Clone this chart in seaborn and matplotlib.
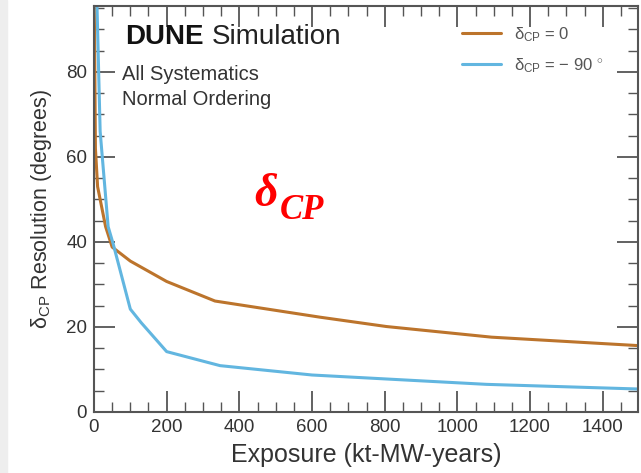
import numpy as np
import pandas as pd
import matplotlib
matplotlib.use("Agg")
import matplotlib.pyplot as plt
from matplotlib.ticker import MultipleLocator
from matplotlib.patches import Rectangle
import seaborn as sns

# Exposure (kt-MW-years) and delta_CP resolution (degrees) for each true value
exposure_cp0 = [0.5, 4, 10, 32, 50, 100, 200, 333, 622, 805, 1094, 1500]
resolution_cp0 = [100, 62, 53, 43.6, 38.8, 35.5, 30.7, 26.1, 22.3, 20.1, 17.6, 15.6]

exposure_cp90 = [7, 17, 39, 53, 100, 130, 200, 347, 600, 1080, 1500]
resolution_cp90 = [100, 66, 43.6, 39.5, 24.2, 21.0, 14.2, 10.9, 8.7, 6.5, 5.4]

series_labels = [r"$\mathrm{\delta_{CP}}$ = 0", r"$\mathrm{\delta_{CP}}$ = − 90 $^{\circ}$"]
series_colors = ["#bc742c", "#62b6e0"]

x_ticks = [0, 200, 400, 600, 800, 1000, 1200, 1400]
y_ticks = [0, 20, 40, 60, 80]

df = pd.concat([
    pd.DataFrame({"exposure": exposure_cp0, "resolution": resolution_cp0, "case": series_labels[0]}),
    pd.DataFrame({"exposure": exposure_cp90, "resolution": resolution_cp90, "case": series_labels[1]}),
], ignore_index=True)

sns.set_theme(style="ticks")
plt.rcParams["font.family"] = ["Liberation Sans", "DejaVu Sans"]
plt.rcParams["mathtext.fontset"] = "custom"
plt.rcParams["mathtext.rm"] = "Liberation Sans"
plt.rcParams["mathtext.it"] = "Liberation Sans:italic"
plt.rcParams["mathtext.bf"] = "Liberation Serif:italic:bold"

fig = plt.figure(figsize=(6.41, 4.73), dpi=100)
fig.patches.append(Rectangle((0, 0), 0.011, 1, transform=fig.transFigure,
                             color="#eeeeee", zorder=0))
ax = fig.add_axes([0.1466, 0.129, 0.8487, 0.8583])

sns.lineplot(data=df, x="exposure", y="resolution", hue="case",
             palette=dict(zip(series_labels, series_colors)),
             linewidth=2.2, sort=False, estimator=None, ax=ax, legend=True)

ax.set_xlim(0, 1497)
ax.set_ylim(0, 95.5)
ax.set_xticks(x_ticks)
ax.set_yticks(y_ticks)
ax.xaxis.set_minor_locator(MultipleLocator(50))
ax.yaxis.set_minor_locator(MultipleLocator(5))
ax.tick_params(which="both", direction="in", top=True, right=True,
               color="#555555", labelsize=13.5, labelcolor="#333333")
ax.tick_params(which="major", length=15, width=1.3, pad=5)
ax.tick_params(which="minor", length=7, width=1.0)
for s in ax.spines.values():
    s.set_color("#555555")
    s.set_linewidth(1.5)

ax.set_xlabel("Exposure (kt-MW-years)", fontsize=18, color="#333333", labelpad=5)
ax.set_ylabel(r"$\mathrm{\delta_{CP}}$ Resolution (degrees)", fontsize=15.5,
              color="#333333", labelpad=9)

leg = ax.legend(loc="upper left", bbox_to_anchor=(0.665, 0.97), frameon=False,
                fontsize=12, handlelength=2.3, handletextpad=0.8,
                labelspacing=0.75, borderaxespad=0)
for t in leg.get_texts():
    t.set_color("#555555")

dune = ax.text(85, 88.2, "DUNE", fontsize=20, fontweight="bold",
               color="#111111", va="center", ha="left")
ax.annotate("Simulation", xy=(1, 0), xycoords=dune, xytext=(6, 0),
            textcoords="offset points", fontsize=20, color="#222222",
            va="bottom", ha="left")
ax.text(77, 79.3, "All Systematics", fontsize=14.5, color="#333333",
        va="center", ha="left")
ax.text(77, 73.6, "Normal Ordering", fontsize=14.5, color="#333333",
        va="center", ha="left")

# Red delta_CP annotation: symbol plus its enlarged subscript
delta = ax.text(440, 48.5, r"$\mathbf{\delta}$", fontsize=33, color="#ff0000",
                ha="left", va="baseline")
ax.annotate("CP", xy=(1, 0), xycoords=delta, xytext=(1, -8),
            textcoords="offset points", fontsize=25, color="#ff0000",
            fontfamily="Liberation Serif", fontstyle="italic",
            fontweight="bold", ha="left", va="bottom")

fig.savefig("out.png", dpi=100)
